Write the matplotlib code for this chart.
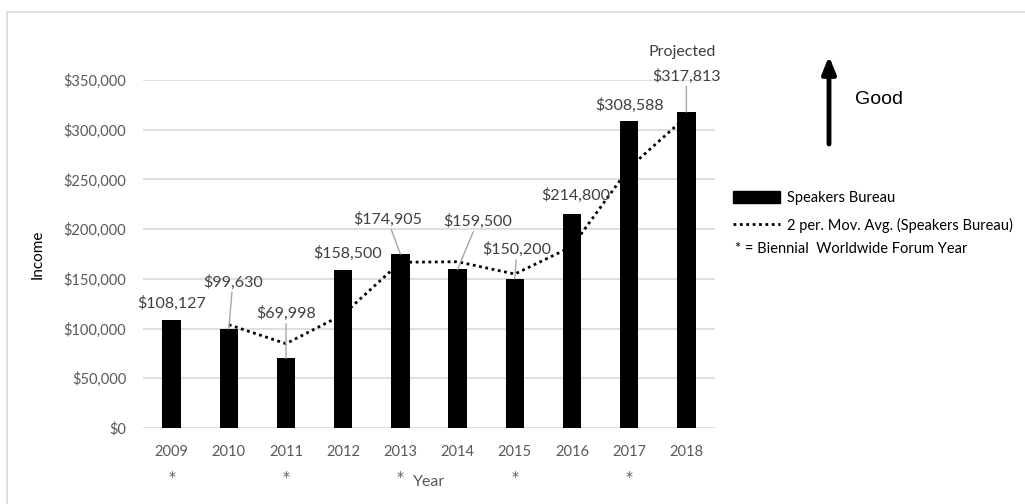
import numpy as np
import matplotlib.pyplot as plt
from matplotlib.patches import Rectangle, Patch
from matplotlib.lines import Line2D
from matplotlib.ticker import FuncFormatter

# Speakers Bureau income by year
years = ['2009', '2010', '2011', '2012', '2013', '2014', '2015', '2016', '2017', '2018']
income = [108127, 99630, 69998, 158500, 174905, 159500, 150200, 214800, 308588, 317813]
forum_years = ['2009', '2011', '2013', '2015', '2017']

# label offsets from bar top (pixels) and whether a leader line is drawn
label_dx = [0, 4, 0, 4, -13, 20, 2, 4, 0, 0]
label_dy = [17, 47, 45, 17, 35, 48, 29, 19, 16, 36]
leader = [False, True, True, False, True, True, True, False, False, True]

plt.rcParams['font.family'] = ['Lato', 'DejaVu Sans']
grey = '#595959'
dark = '#404040'

fig = plt.figure(figsize=(10.25, 5.04), dpi=100)
ax = fig.add_axes([143 / 1025, 1 - 428 / 504, (715 - 143) / 1025, (428 - 80) / 504])

x = np.arange(len(years))
ax.bar(x, income, width=0.32, color='black', zorder=3, label='Speakers Bureau')

# 2-period moving average
mov = [(income[i - 1] + income[i]) / 2 for i in range(1, len(income))]
ax.plot(x[1:], mov, color='black', linestyle=(0, (1, 1.3)), linewidth=2, zorder=4,
        label='2 per. Mov. Avg. (Speakers Bureau)')

ax.set_xlim(-0.5, len(years) - 0.5)
ax.set_ylim(0, 350000)
ax.set_yticks(np.arange(0, 350001, 50000))
ax.yaxis.set_major_formatter(FuncFormatter(lambda v, p: '${:,.0f}'.format(v)))
ax.set_xticks(x)
ax.set_xticklabels(years)
ax.grid(axis='y', color='#d9d9d9', linewidth=1.2, zorder=0)
for s in ax.spines.values():
    s.set_visible(False)
ax.tick_params(length=0, labelsize=10.5, colors=grey, pad=12)
ax.tick_params(axis='y', pad=12)

ax.set_ylabel('Income', fontsize=11, color='black', labelpad=14)
ax.set_xlabel('Year', fontsize=11.5, color=grey, labelpad=12)

# forum-year markers under the tick labels
for i, yr in enumerate(years):
    if yr in forum_years:
        ax.annotate('*', xy=(i, 0), xytext=(0, -49), textcoords='offset pixels',
                    ha='center', va='center', fontsize=10, family='DejaVu Sans',
                    color=grey, annotation_clip=False)

# value labels
for i, v in enumerate(income):
    props = dict(arrowstyle='-', color='#a6a6a6', lw=1, shrinkA=0, shrinkB=0) if leader[i] else None
    ax.annotate('${:,}'.format(v), xy=(i, v), xytext=(label_dx[i], label_dy[i]),
                textcoords='offset pixels', ha='center', va='center', fontsize=11.5,
                color=dark, arrowprops=props, annotation_clip=False, zorder=5)
ax.annotate('Projected', xy=(len(years) - 1, income[-1]), xytext=(-4, 60),
            textcoords='offset pixels', ha='center', va='center', fontsize=11.5,
            color=dark, annotation_clip=False)

# legend
handles = [Patch(facecolor='black', edgecolor='black'),
           Line2D([0], [0], color='black', linestyle=(0, (1, 1.3)), linewidth=2)]
fig.legend(handles, ['Speakers Bureau', '2 per. Mov. Avg. (Speakers Bureau)'],
           loc='upper left', bbox_to_anchor=(720 / 1025, 1 - 178 / 504), frameon=False,
           fontsize=10.5, handlelength=3.2, handleheight=0.8, handletextpad=0.5,
           labelspacing=0.85, labelcolor='black')
fig.text(735 / 1025, 1 - 249 / 504, '* = Biennial  Worldwide Forum Year',
         fontsize=10.5, color='black', va='center')

# "Good" arrow
ax.annotate('', xy=(829 / 1025, 1 - 56 / 504), xytext=(829 / 1025, 1 - 144 / 504),
            xycoords='figure fraction', textcoords='figure fraction',
            arrowprops=dict(arrowstyle='-|>,head_length=1.0,head_width=0.4',
                            color='black', lw=3.5, shrinkA=0, shrinkB=0))
fig.text(855 / 1025, 1 - 99 / 504, 'Good', fontsize=14, family='Liberation Sans',
         color='black', va='center')

# outer chart frame
fig.patches.append(Rectangle((7 / 1025, -0.01), 1.05, 1 - 12 / 504 + 0.01,
                             transform=fig.transFigure, fill=False,
                             edgecolor='#d9d9d9', linewidth=1.2))

fig.savefig('out.png', dpi=100)
